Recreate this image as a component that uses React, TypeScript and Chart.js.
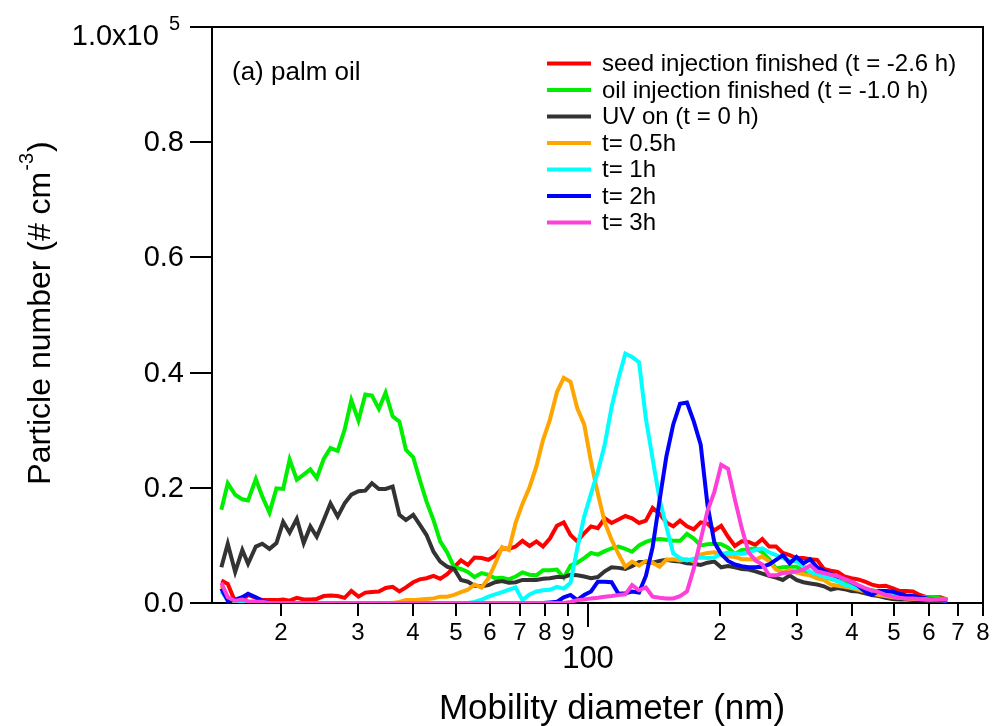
import React, { useEffect, useRef } from "react";
import { Chart, registerables } from "chart.js";

Chart.register(...registerables);

// Mobility diameter channels (nm)
const diameters = [
  14.6, 15.1, 15.7, 16.3, 16.8, 17.5, 18.1, 18.8, 19.5, 20.2,
  20.9, 21.7, 22.5, 23.3, 24.1, 25.0, 25.9, 26.9, 27.9, 28.9,
  30.0, 31.1, 32.2, 33.4, 34.6, 35.9, 37.2, 38.5, 40.0, 41.4,
  42.9, 44.5, 46.1, 47.8, 49.6, 51.4, 53.3, 55.2, 57.3, 59.4,
  61.5, 63.8, 66.1, 68.5, 71.0, 73.7, 76.4, 79.1, 82.0, 85.1,
  88.2, 91.4, 94.7, 98.2, 101.8, 105.5, 109.4, 113.4, 117.6, 121.9,
  126.3, 131.0, 135.8, 140.7, 145.9, 151.2, 156.8, 162.5, 168.5, 174.7,
  181.1, 187.7, 194.6, 201.7, 209.1, 216.7, 224.7, 232.9, 241.4, 250.3,
  259.5, 269.0, 278.8, 289.0, 299.6, 310.6, 322.0, 333.8, 346.0, 358.7,
  371.8, 385.4, 399.5, 414.2, 429.4, 445.1, 461.4, 478.3, 495.8, 514.0,
  532.8, 552.3, 572.5, 593.5, 615.3, 637.8, 661.2,
];

// Particle number, in units of 1e5 # cm^-3
const seedInjection = [
  0.039, 0.033, 0.002, 0.005, 0.014, 0.009, 0.005, 0.005, 0.005, 0.006,
  0.004, 0.009, 0.006, 0.006, 0.007, 0.012, 0.013, 0.012, 0.009, 0.021,
  0.011, 0.018, 0.019, 0.020, 0.026, 0.028, 0.020, 0.027, 0.036, 0.041,
  0.043, 0.047, 0.042, 0.050, 0.062, 0.074, 0.066, 0.079, 0.078, 0.075,
  0.082, 0.095, 0.094, 0.098, 0.108, 0.099, 0.107, 0.098, 0.112, 0.134,
  0.140, 0.118, 0.107, 0.121, 0.133, 0.130, 0.147, 0.139, 0.145, 0.151,
  0.147, 0.139, 0.143, 0.165, 0.155, 0.140, 0.133, 0.143, 0.133, 0.128,
  0.140, 0.138, 0.126, 0.134, 0.115, 0.099, 0.107, 0.106, 0.101, 0.111,
  0.098, 0.098, 0.087, 0.083, 0.078, 0.078, 0.076, 0.075, 0.059, 0.056,
  0.054, 0.046, 0.043, 0.041, 0.037, 0.032, 0.029, 0.030, 0.026, 0.021,
  0.021, 0.020, 0.014, 0.010, 0.010, 0.010, 0.006,
];

const oilInjection = [
  0.162, 0.208, 0.188, 0.180, 0.178, 0.215, 0.185, 0.157, 0.199, 0.198,
  0.249, 0.214, 0.223, 0.232, 0.217, 0.250, 0.269, 0.264, 0.301, 0.352,
  0.317, 0.362, 0.360, 0.337, 0.365, 0.324, 0.315, 0.266, 0.253, 0.214,
  0.176, 0.144, 0.107, 0.088, 0.062, 0.059, 0.054, 0.045, 0.052, 0.049,
  0.043, 0.044, 0.041, 0.046, 0.053, 0.049, 0.048, 0.057, 0.057, 0.058,
  0.044, 0.065, 0.070, 0.078, 0.087, 0.084, 0.090, 0.095, 0.098, 0.094,
  0.089, 0.100, 0.106, 0.110, 0.111, 0.110, 0.108, 0.108, 0.120, 0.112,
  0.100, 0.102, 0.103, 0.102, 0.096, 0.085, 0.092, 0.093, 0.095, 0.088,
  0.076, 0.060, 0.062, 0.063, 0.063, 0.056, 0.049, 0.047, 0.045, 0.042,
  0.038, 0.034, 0.031, 0.027, 0.025, 0.022, 0.020, 0.016, 0.013, 0.011,
  0.010, 0.010, 0.010, 0.010, 0.010, 0.008, 0.007,
];

const uvOn = [
  0.062, 0.103, 0.054, 0.092, 0.068, 0.098, 0.103, 0.094, 0.104, 0.141,
  0.122, 0.146, 0.104, 0.133, 0.115, 0.144, 0.173, 0.150, 0.173, 0.188,
  0.194, 0.195, 0.208, 0.198, 0.198, 0.202, 0.153, 0.144, 0.153, 0.136,
  0.118, 0.089, 0.072, 0.063, 0.059, 0.040, 0.037, 0.030, 0.029, 0.031,
  0.036, 0.038, 0.035, 0.036, 0.040, 0.040, 0.040, 0.042, 0.043, 0.045,
  0.045, 0.049, 0.048, 0.046, 0.043, 0.045, 0.055, 0.062, 0.061, 0.059,
  0.064, 0.071, 0.071, 0.070, 0.073, 0.075, 0.073, 0.072, 0.069, 0.068,
  0.066, 0.070, 0.072, 0.062, 0.064, 0.062, 0.059, 0.058, 0.055, 0.051,
  0.047, 0.044, 0.040, 0.048, 0.040, 0.036, 0.034, 0.032, 0.029, 0.023,
  0.026, 0.024, 0.021, 0.020, 0.017, 0.014, 0.012, 0.009, 0.007, 0.006,
  0.006, 0.005, 0.005, 0.004, 0.004, 0.003, 0.003,
];

const t05h = [
  0.030, 0.010, 0.002, 0.001, 0, 0, 0, 0, 0, 0,
  0, 0, 0, 0, 0, 0, 0, 0, 0, 0,
  0, 0, 0, 0, 0, 0, 0.002, 0.005, 0.005, 0.006,
  0.007, 0.008, 0.011, 0.011, 0.014, 0.019, 0.023, 0.032, 0.027, 0.043,
  0.068, 0.097, 0.092, 0.139, 0.172, 0.201, 0.237, 0.283, 0.318, 0.366,
  0.391, 0.384, 0.338, 0.310, 0.245, 0.190, 0.140, 0.110, 0.085, 0.063,
  0.072, 0.065, 0.073, 0.070, 0.063, 0.075, 0.076, 0.074, 0.076, 0.072,
  0.084, 0.087, 0.088, 0.083, 0.081, 0.080, 0.076, 0.076, 0.075, 0.081,
  0.072, 0.058, 0.053, 0.057, 0.053, 0.050, 0.048, 0.043, 0.040, 0.032,
  0.030, 0.028, 0.026, 0.023, 0.020, 0.017, 0.014, 0.012, 0.010, 0.009,
  0.008, 0.007, 0.007, 0.006, 0.006, 0.005, 0.005,
];

const t1h = [
  0.020, 0.006, 0.004, 0.003, 0.001, 0, 0, 0, 0, 0,
  0, 0, 0, 0, 0, 0, 0, 0, 0, 0,
  0, 0, 0, 0, 0, 0, 0, 0, 0, 0,
  0, 0, 0, 0, 0, 0, 0, 0.002, 0.006, 0.011,
  0.015, 0.019, 0.023, 0.027, 0.005, 0.015, 0.020, 0.022, 0.023, 0.028,
  0.025, 0.035, 0.095, 0.150, 0.190, 0.228, 0.275, 0.340, 0.390, 0.433,
  0.427, 0.418, 0.320, 0.250, 0.180, 0.133, 0.086, 0.078, 0.074, 0.077,
  0.079, 0.078, 0.079, 0.085, 0.087, 0.086, 0.085, 0.088, 0.092, 0.095,
  0.088, 0.083, 0.078, 0.074, 0.072, 0.064, 0.054, 0.050, 0.046, 0.043,
  0.038, 0.032, 0.028, 0.026, 0.023, 0.021, 0.019, 0.015, 0.012, 0.011,
  0.010, 0.009, 0.008, 0.007, 0.006, 0.005, 0.004,
];

const t2h = [
  0.025, 0.004, 0.006, 0.010, 0.016, 0.010, 0.004, 0, 0, 0,
  0, 0, 0, 0, 0, 0, 0, 0, 0, 0,
  0, 0, 0, 0, 0, 0, 0, 0, 0, 0,
  0, 0, 0, 0, 0, 0, 0, 0, 0, 0,
  0, 0, 0, 0, 0, 0, 0, 0, 0.001, 0.002,
  0.010, 0.014, 0.005, 0.014, 0.020, 0.037, 0.037, 0.036, 0.016, 0.017,
  0.020, 0.018, 0.047, 0.097, 0.178, 0.254, 0.310, 0.346, 0.348, 0.315,
  0.275, 0.170, 0.105, 0.085, 0.073, 0.067, 0.064, 0.062, 0.062, 0.063,
  0.067, 0.075, 0.083, 0.069, 0.080, 0.069, 0.076, 0.062, 0.056, 0.050,
  0.046, 0.042, 0.037, 0.030, 0.020, 0.014, 0.021, 0.021, 0.020, 0.016,
  0.013, 0.012, 0.010, 0.008, 0.006, 0.005, 0.004,
];

const t3h = [
  0.035, 0.010, 0.004, 0.006, 0.003, 0.002, 0.002, 0, 0, 0,
  0, 0, 0, 0, 0, 0, 0, 0, 0, 0,
  0, 0, 0, 0, 0, 0, 0, 0, 0, 0,
  0, 0, 0, 0, 0, 0, 0, 0, 0, 0,
  0, 0, 0, 0, 0, 0, 0, 0, 0, 0,
  0, 0.002, 0.005, 0.006, 0.008, 0.009, 0.011, 0.012, 0.014, 0.015,
  0.031, 0.022, 0.027, 0.011, 0.009, 0.008, 0.008, 0.012, 0.020, 0.060,
  0.110, 0.160, 0.193, 0.240, 0.233, 0.180, 0.130, 0.088, 0.074, 0.067,
  0.048, 0.048, 0.052, 0.053, 0.055, 0.058, 0.065, 0.055, 0.052, 0.049,
  0.047, 0.042, 0.037, 0.031, 0.026, 0.022, 0.019, 0.014, 0.011, 0.009,
  0.008, 0.008, 0.007, 0.007, 0.006, 0.006, 0.006,
];

const seriesLabels = [
  "seed injection finished (t = -2.6 h)",
  "oil injection finished (t = -1.0 h)",
  "UV on (t = 0 h)",
  "t= 0.5h",
  "t= 1h",
  "t= 2h",
  "t= 3h",
];
const seriesValues = [seedInjection, oilInjection, uvOn, t05h, t1h, t2h, t3h];
const seriesColors = ["#FF0000", "#00EE00", "#333333", "#FFA500", "#00FFFF", "#0000FF", "#FF40D8"];

const yTickValues = [0, 0.2, 0.4, 0.6, 0.8, 1.0];
const yTickLabels = ["0.0", "0.2", "0.4", "0.6", "0.8", "1.0x10"];
const yTopExponent = "5";
const xMinorTicks = [20, 30, 40, 50, 60, 70, 80, 90, 200, 300, 400, 500, 600, 700, 800];
const xMinorLabels = ["2", "3", "4", "5", "6", "7", "8", "9", "2", "3", "4", "5", "6", "7", "8"];
const xMajorTicks = [100];
const xMajorLabels = ["100"];
const xTitle = "Mobility diameter (nm)";
const yTitleMain = "Particle number (# cm";
const yTitleSup = "-3";
const yTitleEnd = ")";
const annotation = "(a) palm oil";

const FONT = '"Liberation Sans", Arial, Helvetica, sans-serif';
const f = (px: number) => `${px}px ${FONT}`;

const igorPlugin = {
  id: "igorAxes",
  beforeDatasetsDraw(chart: any) {
    const { ctx, chartArea: a, scales } = chart;
    const xs = scales.x;
    const ys = scales.y;
    ctx.save();
    ctx.strokeStyle = "#000";
    ctx.fillStyle = "#000";
    ctx.lineWidth = 2;
    ctx.strokeRect(a.left, a.top, a.right - a.left, a.bottom - a.top);

    // Y ticks and labels
    yTickValues.forEach((v, i) => {
      const py = Math.round(ys.getPixelForValue(v));
      ctx.beginPath();
      ctx.moveTo(a.left - 22, py);
      ctx.lineTo(a.left, py);
      ctx.stroke();
      if (i === yTickValues.length - 1) {
        ctx.font = f(20);
        ctx.textAlign = "right";
        ctx.textBaseline = "alphabetic";
        ctx.fillText(yTopExponent, 180, py + 3);
        const ew = ctx.measureText(yTopExponent).width;
        ctx.font = f(29);
        ctx.fillText(yTickLabels[i], 180 - ew - 10, py + 18);
      } else {
        ctx.font = f(29);
        ctx.textAlign = "right";
        ctx.textBaseline = "middle";
        ctx.fillText(yTickLabels[i], 184, py + 1);
      }
    });

    // X ticks
    xMinorTicks.forEach((v, i) => {
      const px = Math.round(xs.getPixelForValue(v));
      ctx.beginPath();
      ctx.moveTo(px, a.bottom);
      ctx.lineTo(px, a.bottom + 13);
      ctx.stroke();
      ctx.font = f(24);
      ctx.textAlign = "center";
      ctx.textBaseline = "alphabetic";
      ctx.fillText(xMinorLabels[i], px, 640);
    });
    xMajorTicks.forEach((v, i) => {
      const px = Math.round(xs.getPixelForValue(v));
      ctx.beginPath();
      ctx.moveTo(px, a.bottom);
      ctx.lineTo(px, a.bottom + 24);
      ctx.stroke();
      ctx.font = f(31);
      ctx.textAlign = "center";
      ctx.textBaseline = "alphabetic";
      ctx.fillText(xMajorLabels[i], px, 668);
    });

    // X title
    ctx.font = f(35);
    ctx.textAlign = "center";
    ctx.textBaseline = "alphabetic";
    ctx.fillText(xTitle, 612, 719);

    // Y title (rotated, with superscript)
    ctx.save();
    ctx.translate(50, 313);
    ctx.rotate(-Math.PI / 2);
    ctx.font = f(32);
    const w1 = ctx.measureText(yTitleMain).width;
    const w3 = ctx.measureText(yTitleEnd).width;
    ctx.font = f(20);
    const w2 = ctx.measureText(yTitleSup).width;
    const total = w1 + w2 + w3 + 2;
    let x0 = -total / 2;
    ctx.textAlign = "left";
    ctx.textBaseline = "alphabetic";
    ctx.font = f(32);
    ctx.fillText(yTitleMain, x0, 0);
    x0 += w1 + 1;
    ctx.font = f(20);
    ctx.fillText(yTitleSup, x0, -17);
    x0 += w2 + 1;
    ctx.font = f(32);
    ctx.fillText(yTitleEnd, x0, 0);
    ctx.restore();

    ctx.restore();
  },
  afterDatasetsDraw(chart: any) {
    const { ctx } = chart;
    ctx.save();
    // annotation
    ctx.fillStyle = "#000";
    ctx.font = f(26);
    ctx.textAlign = "left";
    ctx.textBaseline = "middle";
    ctx.fillText(annotation, 232, 73);
    // legend
    chart.data.datasets.forEach((ds: any, i: number) => {
      const y = 63.5 + i * 26.5;
      ctx.strokeStyle = ds.borderColor;
      ctx.lineWidth = 4;
      ctx.beginPath();
      ctx.moveTo(547, y);
      ctx.lineTo(591, y);
      ctx.stroke();
      ctx.fillStyle = "#000";
      ctx.font = f(24);
      ctx.textAlign = "left";
      ctx.textBaseline = "middle";
      ctx.fillText(ds.label, 602, y + 1);
    });
    ctx.restore();
  },
};

export default function App() {
  const canvasRef = useRef<HTMLCanvasElement | null>(null);

  useEffect(() => {
    const canvas = canvasRef.current;
    if (!canvas) return;
    const datasets = seriesValues.map((vals, si) => ({
      label: seriesLabels[si],
      data: diameters.map((d, i) => ({ x: d, y: vals[i] })),
      borderColor: seriesColors[si],
      backgroundColor: seriesColors[si],
      borderWidth: 4,
      pointRadius: 0,
      fill: false,
      tension: 0,
      order: seriesValues.length - si,
    }));
    const chart = new Chart(canvas, {
      type: "line",
      data: { datasets },
      options: {
        animation: false,
        responsive: false,
        devicePixelRatio: 1,
        layout: { padding: { left: 212, top: 27, right: 11, bottom: 123 } },
        scales: {
          x: { type: "logarithmic", min: 13.9, max: 798, display: false },
          y: { type: "linear", min: 0, max: 1.0, display: false },
        },
        plugins: {
          legend: { display: false },
          tooltip: { enabled: false },
        },
      },
      plugins: [igorPlugin],
    } as any);
    return () => chart.destroy();
  }, []);

  return (
    <div style={{ position: "absolute", left: 0, top: 0, width: 994, height: 726, background: "#fff" }}>
      <canvas ref={canvasRef} width={994} height={726} />
    </div>
  );
}
